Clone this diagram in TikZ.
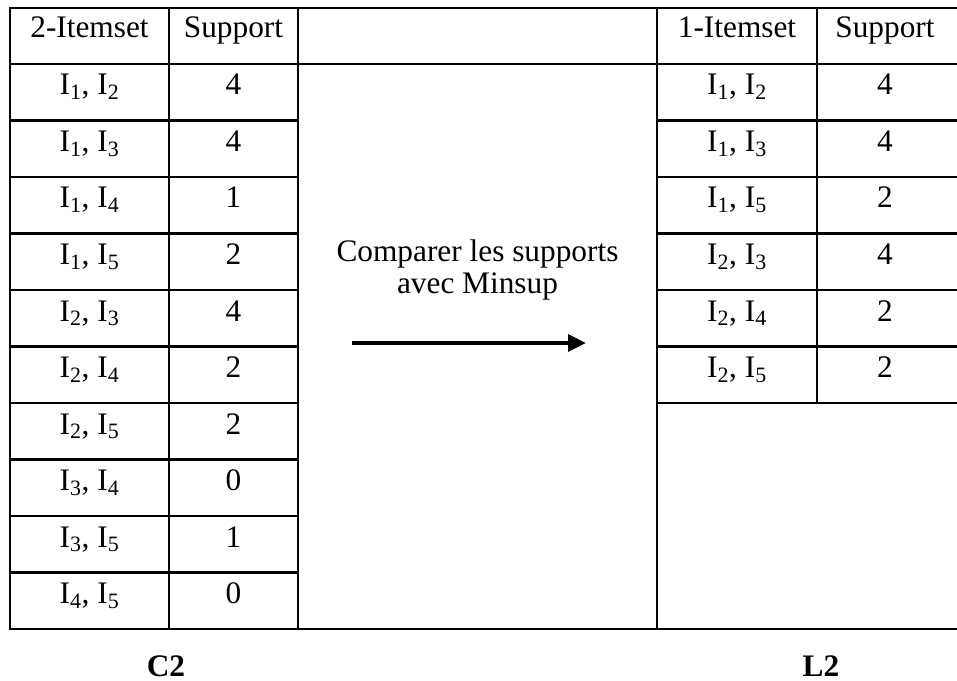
\documentclass[tikz,border=0pt]{standalone}
\usepackage{fontspec}
\setmainfont{Liberation Serif}
\usetikzlibrary{arrows.meta}

\begin{document}
\begin{tikzpicture}[x=0.75pt,y=-0.75pt,
  rule/.style={line width=1.8pt,line cap=rect},
  cell/.style={anchor=base,inner sep=0pt,font=\fontsize{23.5}{31}\selectfont},
  caption/.style={anchor=base,inner sep=0pt,font=\fontsize{23.5}{31}\selectfont\bfseries},
  flow/.style={line width=2.8pt,-{Triangle[length=13.5pt,width=12.5pt]}}]
\useasboundingbox (0,0) rectangle (957,681);

% frame and column rules
\draw[rule] (10,8) -- (960,8);
\draw[rule] (10,64) -- (960,64);
\draw[rule] (10,629) -- (960,629);
\foreach \x in {10,169,298,657} \draw[rule] (\x,8) -- (\x,629);
\draw[rule] (817,8) -- (817,403);

% row rules of C2
\foreach \k in {1,...,9} \draw[rule] (10,64+56.5*\k) -- (298,64+56.5*\k);
% row rules of L2
\foreach \k in {1,...,6} \draw[rule] (657,64+56.5*\k) -- (960,64+56.5*\k);

% headers
\node[cell] (h1) at (89.5,37.5) {2-Itemset};
\node[cell] (h2) at (233.5,37.5) {Support};
\node[cell] (h4) at (737,37.5) {1-Itemset};
\node[cell] (h5) at (885,37.5) {Support};

% C2 rows
\foreach \a/\b/\s [count=\k from 0] in {1/2/4,1/3/4,1/4/1,1/5/2,2/3/4,2/4/2,2/5/2,3/4/0,3/5/1,4/5/0}{
  \node[cell] (ca\k) at (89.5,95+56.5*\k) {I\textsubscript{\a}, I\textsubscript{\b}};
  \node[cell] (cs\k) at (233.5,95+56.5*\k) {\s};
}

% L2 rows
\foreach \a/\b/\s [count=\k from 0] in {1/2/4,1/3/4,1/5/2,2/3/4,2/4/2,2/5/2}{
  \node[cell] (la\k) at (737,95+56.5*\k) {I\textsubscript{\a}, I\textsubscript{\b}};
  \node[cell] (ls\k) at (885,95+56.5*\k) {\s};
}

% middle step
\node[cell] (m1) at (477.5,262) {Comparer les supports};
\node[cell] (m2) at (477.5,293) {avec Minsup};
\coordinate (tail) at (352,343);
\coordinate (head) at (586,343);
\draw[flow] (tail) -- (head);

% captions
\node[caption] (c2) at (166,676) {C2};
\node[caption] (l2) at (821,676) {L2};
\end{tikzpicture}
\end{document}
